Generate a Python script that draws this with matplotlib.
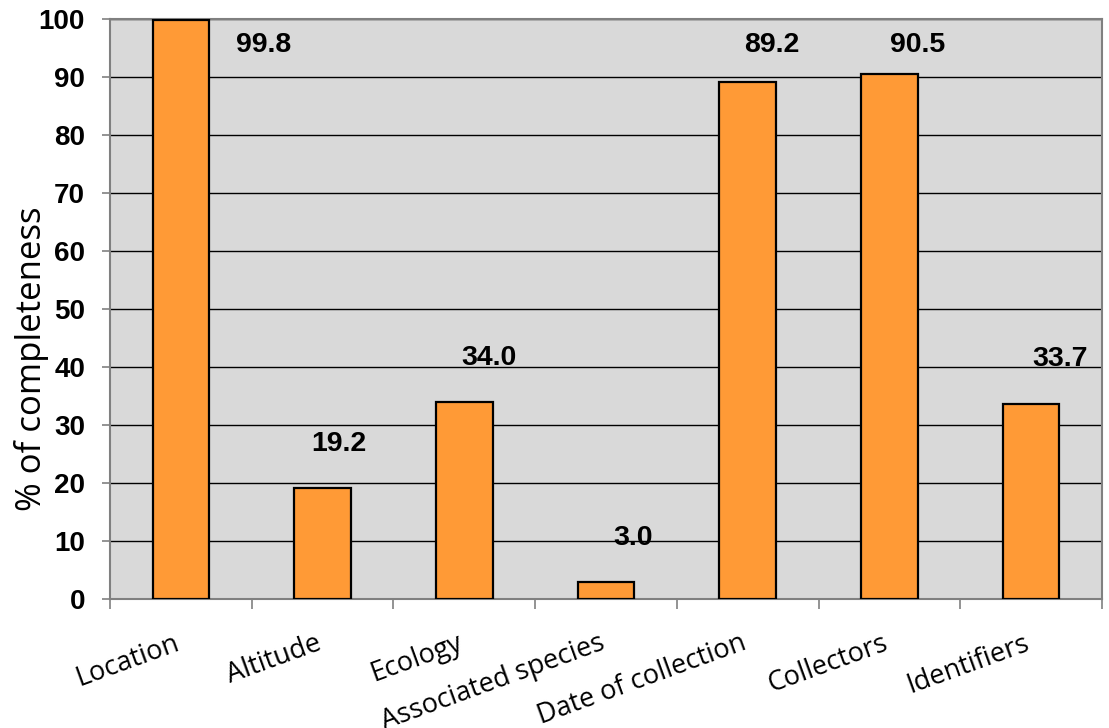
"""Bar chart: completeness of specimen label fields."""

import matplotlib.pyplot as plt
import numpy as np

categories = ["Location", "Altitude", "Ecology", "Associated species",
              "Date of collection", "Collectors", "Identifiers"]
completeness = [99.8, 19.2, 34.0, 3.0, 89.2, 90.5, 33.7]
value_labels = ["99.8", "19.2", "34.0", "3.0", "89.2", "90.5", "33.7"]

# horizontal nudge of each value label, in category widths
label_dx = [0.585, 0.115, 0.175, 0.19, 0.17, 0.2, 0.205]

BAR_COLOR = "#ff9a36"
BG_COLOR = "#d9d9d9"
SPINE_COLOR = "#808080"

fig = plt.figure(figsize=(11.09, 7.28), dpi=100)
ax = fig.add_axes([0.0992, 0.1772, 0.8945, 0.7967])
ax.set_facecolor(BG_COLOR)

x = np.arange(len(categories))
ax.bar(x, completeness, width=0.40, color=BAR_COLOR, edgecolor="black",
       linewidth=1.6, zorder=3)

# value labels sit up and to the right of each bar, kept under the top
for xi, v, lab, dx in zip(x, completeness, value_labels, label_dx):
    y = min(v + 7.6, 95.5)
    ax.text(xi + dx, y, lab, ha="center", va="center", fontsize=20.5,
            fontweight="bold", family="Liberation Sans", zorder=4)

ax.set_xlim(-0.5, len(categories) - 0.5)
ax.set_ylim(0, 100)
ax.set_yticks(np.arange(0, 101, 10))
ax.yaxis.grid(True, color="black", linewidth=1.0, zorder=1)
ax.set_axisbelow(True)

# category boundaries carry the tick marks, centres carry the labels
ax.set_xticks(np.arange(-0.5, len(categories)), minor=False)
ax.set_xticklabels([])
ax.set_xticks(x, minor=True)
ax.set_xticklabels(categories, minor=True, rotation=20, ha="right",
                   va="baseline", rotation_mode="anchor",
                   family="Open Sans", fontsize=19.5)
ax.tick_params(axis="x", which="major", length=7, width=1.2,
               color=SPINE_COLOR, direction="out")
ax.tick_params(axis="x", which="minor", length=0, pad=36)
ax.tick_params(axis="y", length=6, width=1.2, color=SPINE_COLOR, pad=12)
for lab in ax.get_yticklabels():
    lab.set_fontweight("bold")
    lab.set_fontsize(20)
    lab.set_family("Liberation Sans")

for side in ["left", "right", "top", "bottom"]:
    ax.spines[side].set_color(SPINE_COLOR)
    ax.spines[side].set_linewidth(1.5)

ax.set_ylabel("% of completeness", family="Open Sans", fontsize=25)
ax.yaxis.set_label_coords(-0.062, 0.415)

fig.savefig("out.png", dpi=100)
